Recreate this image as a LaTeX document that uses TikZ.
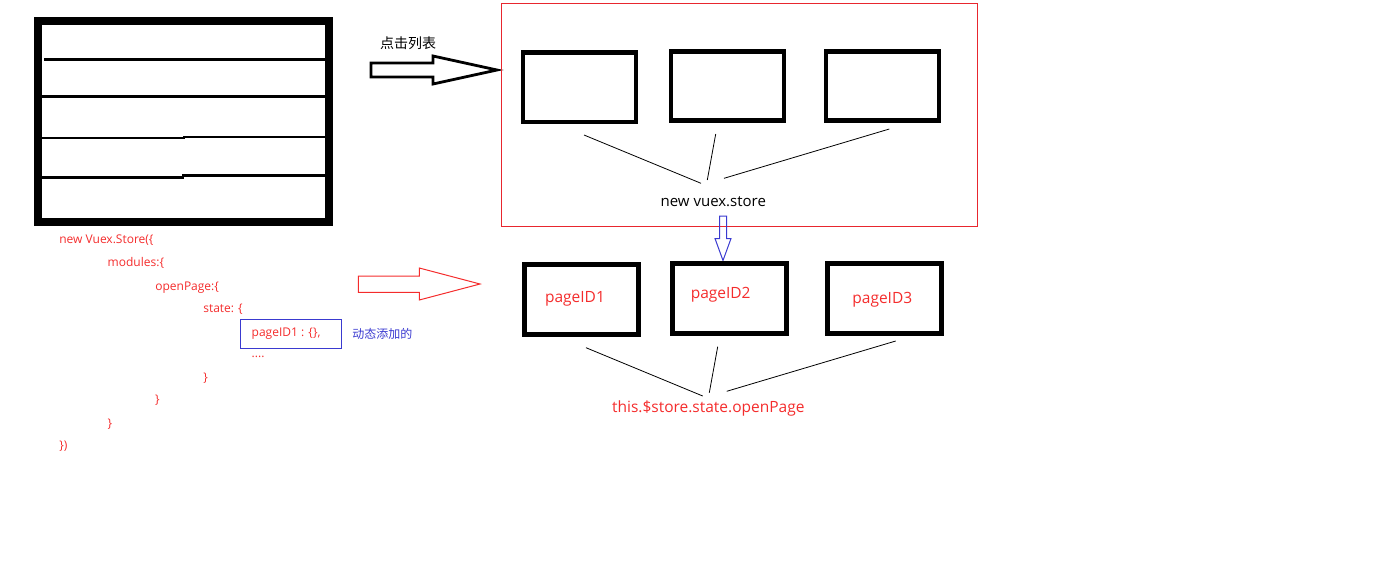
\documentclass[tikz,border=0pt]{standalone}
\usepackage{fontspec}
\setmainfont{Open Sans}
\newfontfamily\cjk{Noto Sans CJK SC}
\definecolor{codered}{HTML}{F42C2C}
\definecolor{framered}{HTML}{E8262E}
\definecolor{noteblue}{HTML}{3A3AD0}

\begin{document}
\begin{tikzpicture}[
  x=1pt,
  y=-1pt,
  every node/.style={inner sep=0pt, outer sep=0pt},
  card/.style={draw=black, line width=4.7pt, minimum width=113pt, minimum height=69.5pt},
  code/.style={anchor=base west, text=codered, font=\fontsize{12}{14}\selectfont},
  pagelabel/.style={anchor=base, text=codered, font=\fontsize{15.5}{18}\selectfont},
  tie/.style={black, line width=0.8pt}
]
  \useasboundingbox (0,0) rectangle (1373,574);

  % list on the left
  \draw[line width=8pt] (38,21) rectangle (329,222);
  \draw[line width=2.7pt] (44,59.3) -- (325,59.3);
  \draw[line width=2.7pt] (42,96.3) -- (325,96.3);
  \draw[line width=2.7pt] (42,138) -- (184,138) -- (184,137) -- (325,137);
  \draw[line width=2.7pt] (42,177.3) -- (183,177.3) -- (183,175.7) -- (325,175.7);

  \node[font=\cjk\fontsize{14}{16}\selectfont] (click) at (408,43) {点击列表};
  \draw[line width=2.8pt]
    (371,63) -- (433,63) -- (433,56) -- (497,70) -- (433,84) -- (433,77) -- (371,77) -- cycle;

  % store with three cards
  \draw[framered, line width=1pt] (501.5,3.5) rectangle (977,226);
  \node[card] (card1) at (579.5,87.2) {};
  \node[card] (card2) at (727.5,86) {};
  \node[card] (card3) at (882.5,86) {};
  \node[anchor=base, font=\fontsize{15}{18}\selectfont] (store) at (713.3,206.5) {new vuex.store};

  \coordinate (s1) at (584,135);    \coordinate (e1) at (701,183.3);
  \coordinate (s2) at (715.7,134);  \coordinate (e2) at (707.3,180);
  \coordinate (s3) at (889.3,129);  \coordinate (e3) at (724,178.3);
  \draw[tie] (s1) -- (e1);
  \draw[tie] (s2) -- (e2);
  \draw[tie] (s3) -- (e3);

  \draw[noteblue, line width=1pt]
    (719.5,216) -- (726.5,216) -- (726.5,238.5) -- (731,238.5) -- (723,260.5)
    -- (715,238.5) -- (719.5,238.5) -- cycle;

  % modules in the state
  \node[card, minimum width=113.7pt, minimum height=69.7pt] (page1) at (581.5,299.5) {};
  \node[card, minimum width=113.7pt, minimum height=70pt] (page2) at (729.5,298.7) {};
  \node[card, minimum width=114.3pt, minimum height=70pt] (page3) at (884.5,298.7) {};
  \node[pagelabel] (id1) at (575,302.7) {pageID1};
  \node[pagelabel] (id2) at (720.7,298.3) {pageID2};
  \node[pagelabel] (id3) at (882.3,303.3) {pageID3};
  \node[pagelabel] (openpage) at (708.3,412.5) {this.\$store.state.openPage};

  \coordinate (s4) at (586,347.7);   \coordinate (e4) at (702.7,396);
  \coordinate (s5) at (717.7,346.7); \coordinate (e5) at (709.3,392.7);
  \coordinate (s6) at (895.7,341);   \coordinate (e6) at (726.7,391.3);
  \draw[tie] (s4) -- (e4);
  \draw[tie] (s5) -- (e5);
  \draw[tie] (s6) -- (e6);

  % code
  \node[code] (l1) at (59.3,243) {new Vuex.Store(\{};
  \node[code] (l2) at (107.7,266) {modules:\{};
  \node[code] (l3) at (155.3,290) {openPage:\{};
  \node[code] (l4) at (203.3,312.3) {state: \{};
  \node[code] (l5) at (251.7,336) {pageID1 : \{\},};
  \node[code] (l6) at (251.7,357.3) {....};
  \node[code] (l7) at (203.3,381) {\}};
  \node[code] (l8) at (155,403) {\}};
  \node[code] (l9) at (107.7,427) {\}};
  \node[code] (l10) at (59.3,449) {\})};

  \draw[noteblue, line width=0.8pt] (240,319.3) rectangle (341.7,348.3);
  \node[anchor=west, text=noteblue, font=\cjk\fontsize{12}{14}\selectfont] (added) at (352.3,334) {动态添加的};

  \draw[codered, line width=1pt]
    (358.3,276) -- (419.3,276) -- (419.3,268) -- (480,284) -- (419.3,300) -- (419.3,292.3) -- (358.3,292.3) -- cycle;
\end{tikzpicture}
\end{document}
